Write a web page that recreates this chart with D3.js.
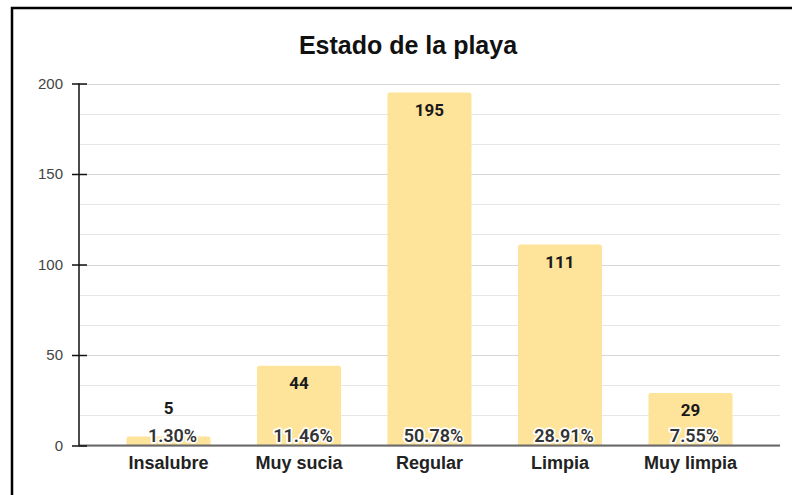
<!DOCTYPE html>
<html>
<head>
<meta charset="utf-8">
<script src="https://cdn.jsdelivr.net/npm/d3@7"></script>
<style>
  html, body { margin: 0; padding: 0; background: #fff; }
  svg { display: block; }
</style>
</head>
<body>
<script>
const categories = ["Insalubre", "Muy sucia", "Regular", "Limpia", "Muy limpia"];
const values = [5, 44, 195, 111, 29];
const percentLabels = ["1.30%", "11.46%", "50.78%", "28.91%", "7.55%"];
const yTicks = [0, 50, 100, 150, 200];
const title = "Estado de la playa";

(function () {
const W = 792, H = 495;
const svg = d3.select("body").append("svg").attr("width", W).attr("height", H);

svg.append("rect").attr("width", W).attr("height", H).attr("fill", "#fff");
// frame
svg.append("rect").attr("x", 12).attr("y", 8).attr("width", 820).attr("height", 520)
  .attr("fill", "none").attr("stroke", "#000").attr("stroke-width", 2.5);

const pLeft = 79, pRight = 780, pTop = 83.5, pBottom = 445.5;

const x = d3.scaleBand().domain(categories).range([pLeft, pRight])
  .paddingInner(0.356).paddingOuter(0.364);
const y = d3.scaleLinear().domain([0, 200]).range([pBottom, pTop]);

// gridlines (major + minor)
const gridVals = d3.range(0, 13).map(i => i * 200 / 12);
svg.append("g").selectAll("line").data(gridVals).join("line")
  .attr("x1", pLeft).attr("x2", pRight)
  .attr("y1", d => Math.round(y(d)) + 0.5).attr("y2", d => Math.round(y(d)) + 0.5)
  .attr("stroke", (d, i) => i % 3 === 0 ? "#d6d6d6" : "#e6e6e6")
  .attr("stroke-width", 1.2);

// title
svg.append("text").attr("x", 408).attr("y", 54).attr("text-anchor", "middle")
  .attr("font-family", "'Liberation Sans', Arial, sans-serif").attr("font-weight", "bold")
  .attr("font-size", 25).attr("fill", "#111").text(title);

// bars with rounded top corners
const r = 2.5;
function barPath(d, i) {
  const x0 = x(categories[i]), w = x.bandwidth();
  const y0 = y(d), y1 = y(0);
  return `M${x0},${y1}V${y0 + r}Q${x0},${y0} ${x0 + r},${y0}H${x0 + w - r}Q${x0 + w},${y0} ${x0 + w},${y0 + r}V${y1}Z`;
}
svg.append("g").selectAll("path").data(values).join("path")
  .attr("d", barPath).attr("fill", "#FEE39A");

// x axis baseline
svg.append("line").attr("x1", pLeft).attr("x2", pRight).attr("y1", pBottom).attr("y2", pBottom)
  .attr("stroke", "#6a6a6a").attr("stroke-width", 2);

// y axis
const yAxis = d3.axisLeft(y).tickValues(yTicks).tickSizeInner(7).tickSizeOuter(0).tickPadding(9);
const gy = svg.append("g").attr("transform", `translate(${pLeft},0)`).call(yAxis);
gy.select(".domain").attr("stroke", "#111").attr("stroke-width", 1.5)
  .attr("d", `M0,${pTop}V${pBottom}`);
gy.selectAll(".tick line").attr("x1", -7).attr("x2", 8).attr("stroke", "#111").attr("stroke-width", 1.5);
gy.selectAll(".tick text").attr("font-family", "'Liberation Sans', Arial, sans-serif")
  .attr("font-size", 15).attr("fill", "#444");

// category labels
svg.append("g").selectAll("text").data(categories).join("text")
  .attr("x", d => x(d) + x.bandwidth() / 2).attr("y", 469)
  .attr("text-anchor", "middle")
  .attr("font-family", "'Liberation Sans', Arial, sans-serif").attr("font-weight", "bold")
  .attr("font-size", 18).attr("fill", "#222").text(d => d);

// value labels
svg.append("g").selectAll("text").data(values).join("text")
  .attr("x", (d, i) => x(categories[i]) + x.bandwidth() / 2)
  .attr("y", d => (pBottom - y(d) > 40) ? y(d) + 23 : y(d) - 22)
  .attr("text-anchor", "middle")
  .attr("font-family", "Roboto, sans-serif").attr("font-weight", "bold")
  .attr("font-size", 17).attr("fill", "#1a1a1a").text(d => d);

// percentage labels with white halo
svg.append("g").selectAll("text").data(percentLabels).join("text")
  .attr("x", (d, i) => x(categories[i]) + x.bandwidth() / 2 + 4)
  .attr("y", 442)
  .attr("text-anchor", "middle")
  .attr("font-family", "Roboto, sans-serif").attr("font-weight", 600)
  .attr("font-size", 18).attr("fill", "#333")
  .attr("stroke", "#fff").attr("stroke-width", 3.5).attr("paint-order", "stroke")
  .attr("stroke-linejoin", "round").text(d => d);
})();
</script>
</body>
</html>
